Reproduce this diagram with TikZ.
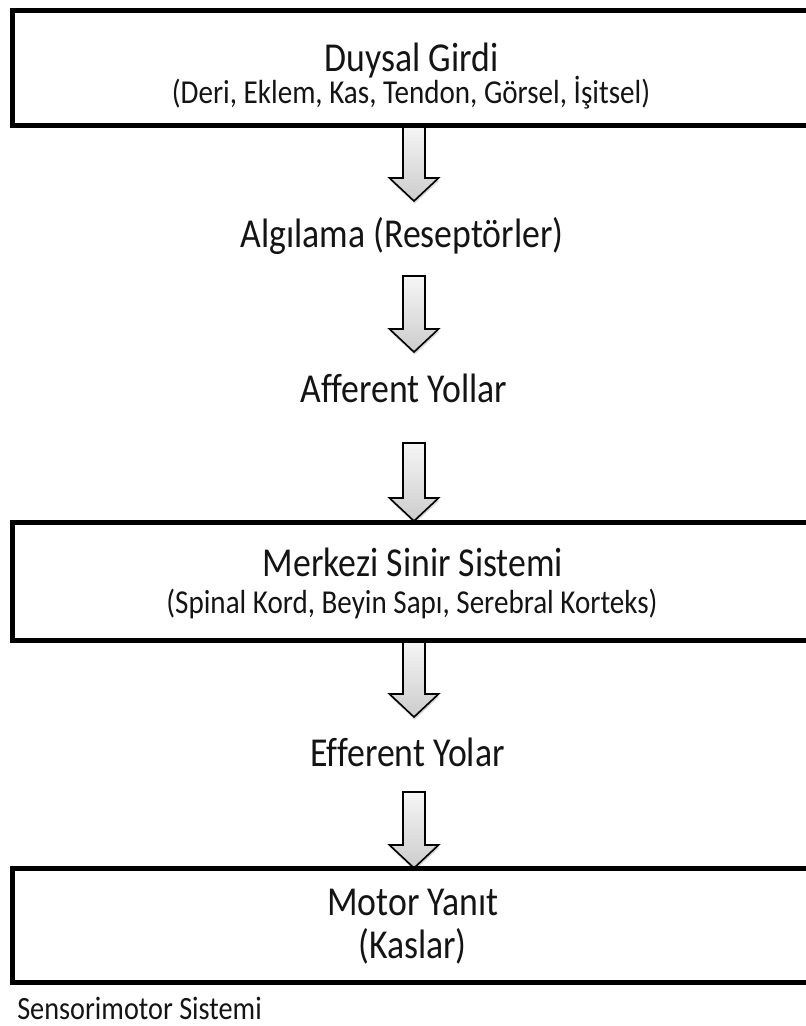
\documentclass[tikz,border=0pt]{standalone}
\usepackage{fontspec}
\usepackage{graphicx}
\setmainfont{Carlito}[Ligatures=NoCommon]
\usetikzlibrary{calc,shadows}
\newdimen\pxu \pxu=0.75pt
\newcommand{\tall}[1]{\scalebox{1}[1.15]{#1}}
\tikzset{
 boxnode/.style={draw=black, line width=3.75pt, rectangle, inner sep=0pt, outer sep=0pt, anchor=north west},
 headtext/.style={font=\fontsize{26.8pt}{30pt}\selectfont, inner sep=0pt, anchor=base, text=black!92},
 subtext/.style={font=\fontsize{21.8pt}{25pt}\selectfont, inner sep=0pt, anchor=base, text=black!92},
 foottext/.style={font=\fontsize{21.2pt}{25pt}\selectfont, inner sep=0pt, anchor=base west, text=black!92},
 blockarrowstyle/.style={draw=black, line width=1.2pt, line join=miter, top color=gray!7, bottom color=gray!40,
   drop shadow={shadow xshift=0.5pt, shadow yshift=-2pt, opacity=0.16, fill=black}},
}
\newcommand{\blockarrow}[2]{%
  \path[blockarrowstyle] let \p1=(#1), \p2=(#2) in
   (\x1-8.25pt,\y1) -- (\x1+8.25pt,\y1) -- (\x1+8.25pt,\y2+17.25pt) -- (\x1+18.4pt,\y2+17.25pt)
   -- (\x1,\y2) -- (\x1-18.4pt,\y2+17.25pt) -- (\x1-8.25pt,\y2+17.25pt) -- cycle;}
\begin{document}
\begin{tikzpicture}[x=0.75pt,y=-0.75pt]
\useasboundingbox (0,0) rectangle (806,1026);
% texts
\node[headtext] (t1a) at (411.5,71) {\tall{Duysal Girdi}};
\node[subtext] (t1b) at (411,103) {\tall{(Deri, Eklem, Kas, Tendon, Görsel, İşitsel)}};
\node[headtext] (l1) at (402,247) {\tall{Algılama (Reseptörler)}};
\node[headtext] (l2) at (404,402) {\tall{Afferent Yollar}};
\node[headtext] (t2a) at (413,576) {\tall{Merkezi Sinir Sistemi}};
\node[subtext] (t2b) at (412,613) {\tall{(Spinal Kord, Beyin Sapı, Serebral Korteks)}};
\node[headtext] (l3) at (407.5,766) {\tall{Efferent Yolar}};
\node[headtext] (t3a) at (413,915) {\tall{Motor Yanıt}};
\node[headtext] (t3b) at (412.5,958) {\tall{(Kaslar)}};
\node[foottext] (foot) at (17,1019) {\tall{Sensorimotor Sistemi}};
% arrow end points
\coordinate (a1s) at (414,125);
\coordinate (a1e) at (414,201);
\coordinate (a2s) at (414,276);
\coordinate (a2e) at (414,352);
\coordinate (a3s) at (414,443);
\coordinate (a3e) at (414,521);
\coordinate (a4s) at (414,640);
\coordinate (a4e) at (414,717);
\coordinate (a5s) at (414,792);
\coordinate (a5e) at (414,868);
% arrows
\blockarrow{a1s}{a1e}
\blockarrow{a2s}{a2e}
\blockarrow{a3s}{a3e}
\blockarrow{a4s}{a4e}
\blockarrow{a5s}{a5e}
% boxes
\node[boxnode, minimum width=817.5\pxu, minimum height=115\pxu] (box1) at (12.5,10) {};
\node[boxnode, minimum width=817.5\pxu, minimum height=118\pxu] (box2) at (12.5,522) {};
\node[boxnode, minimum width=817.5\pxu, minimum height=114\pxu] (box3) at (12.5,868) {};
\end{tikzpicture}
\end{document}
